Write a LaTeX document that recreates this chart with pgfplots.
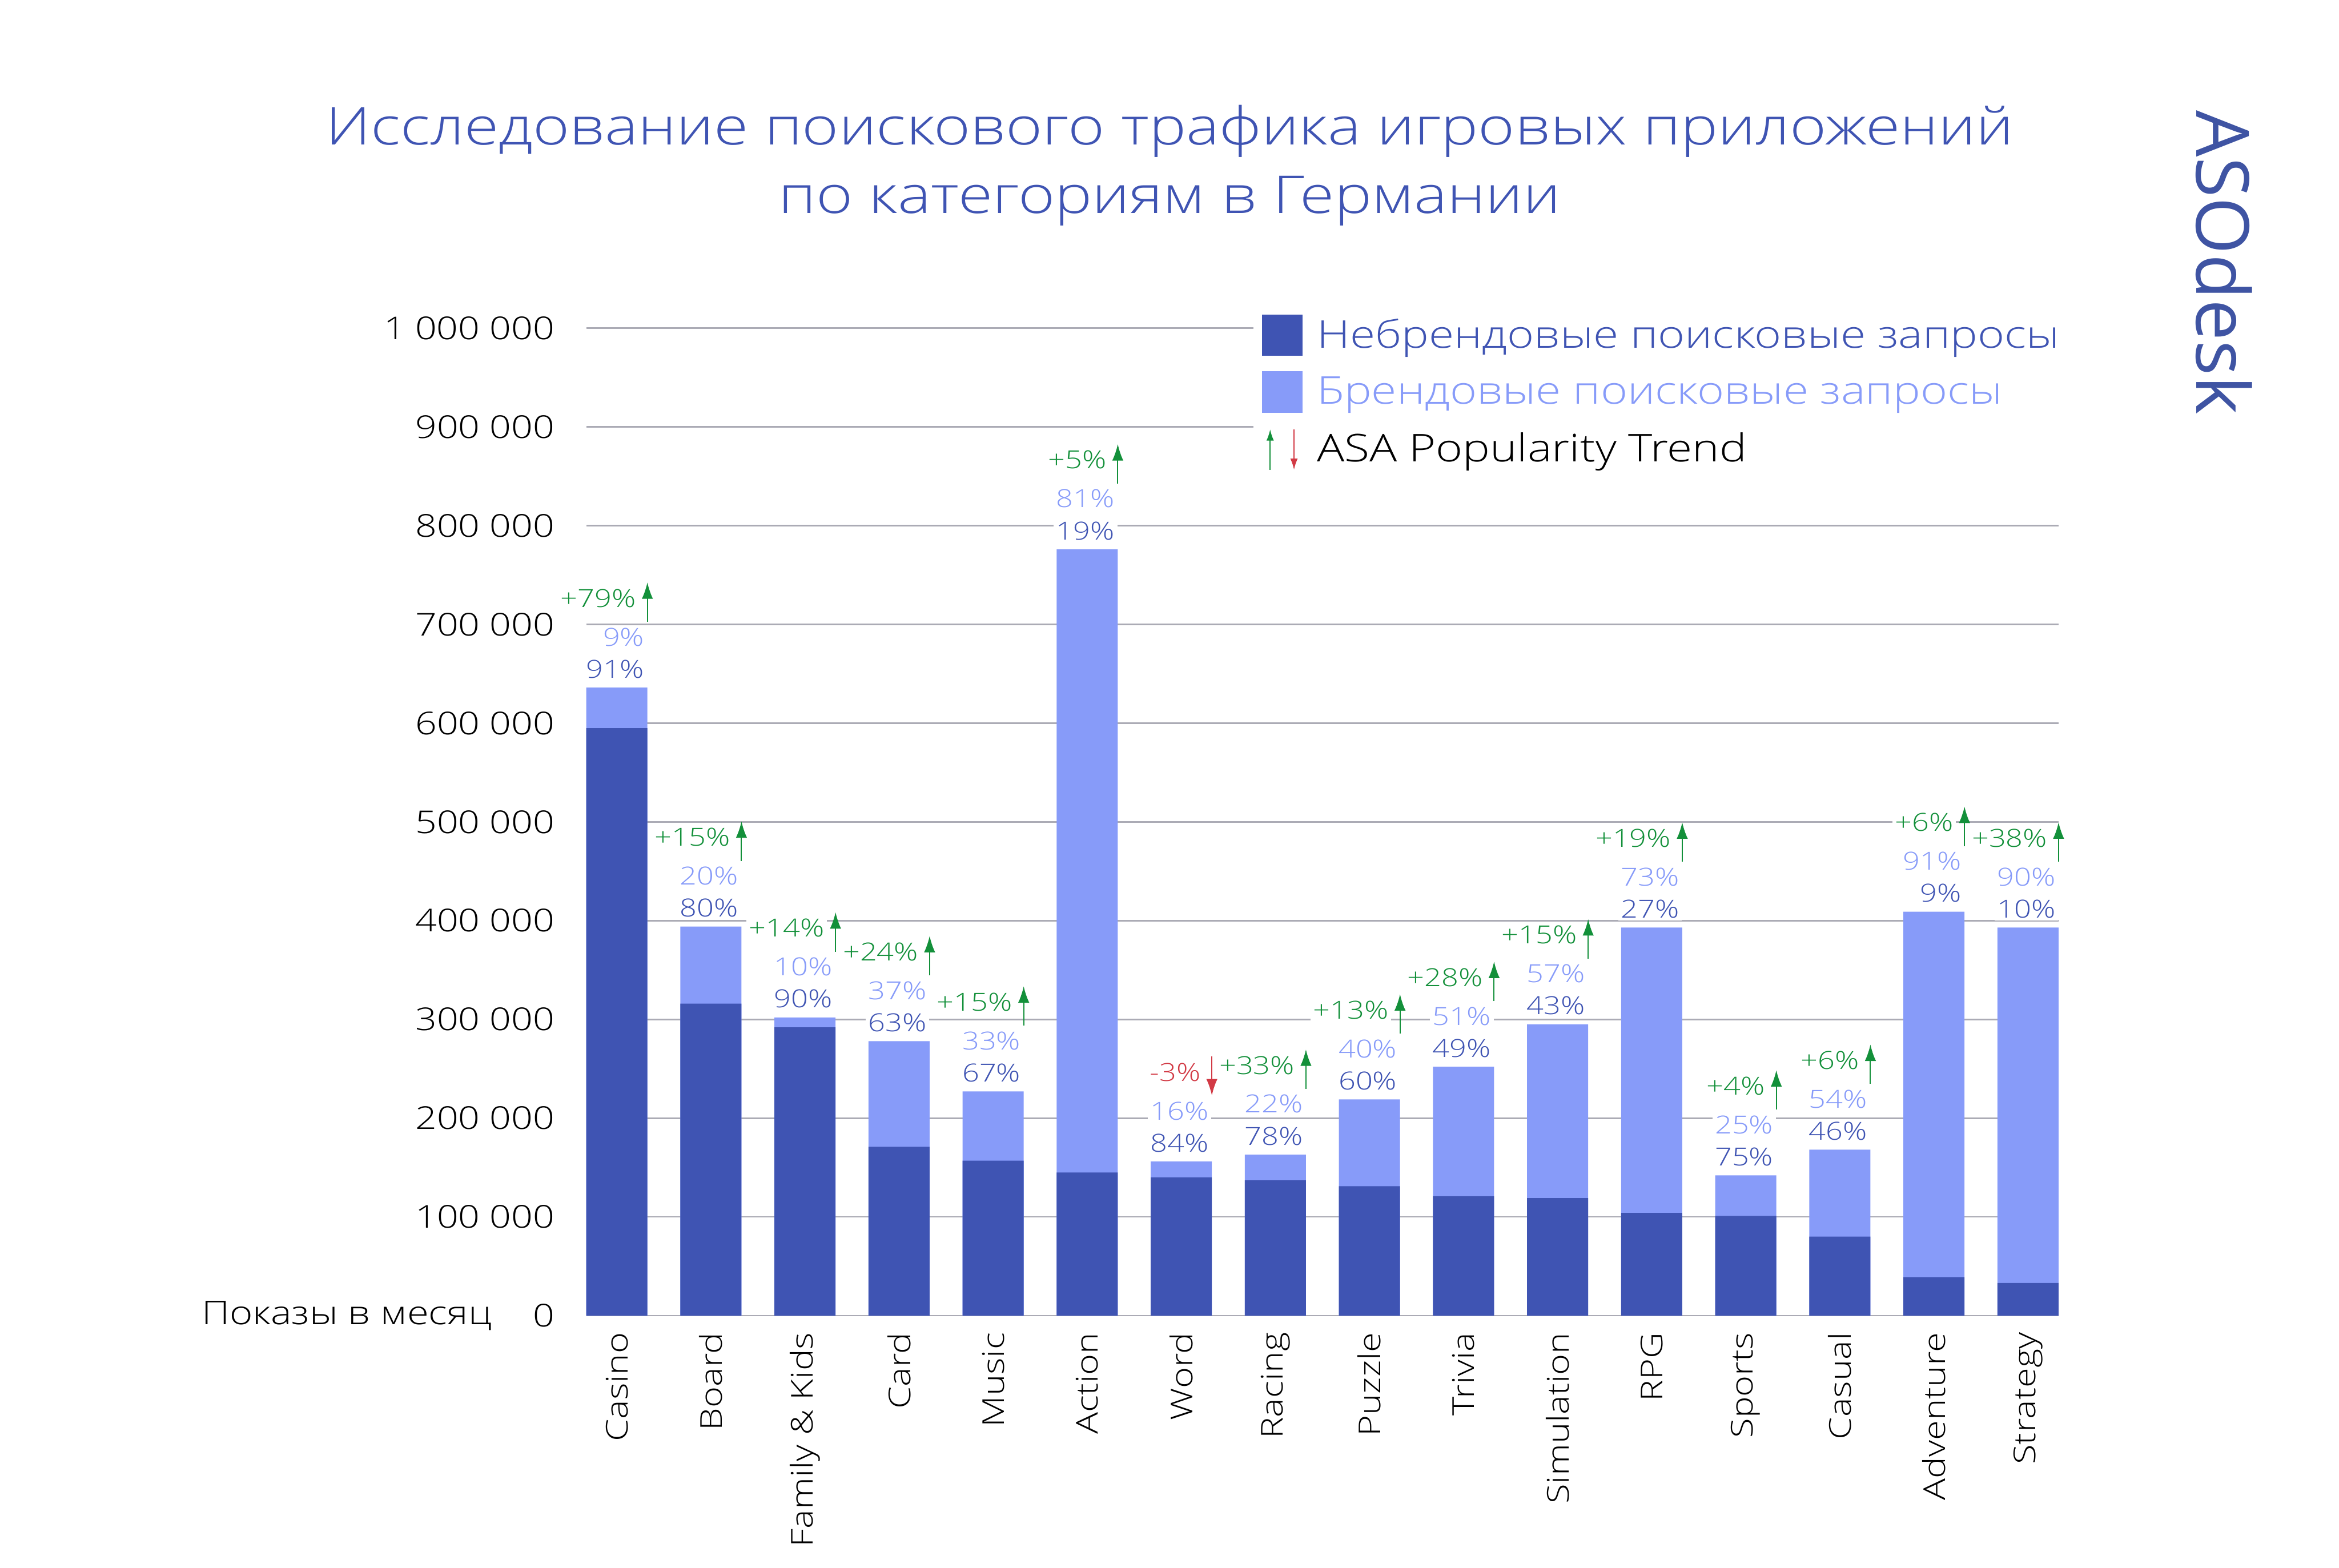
\documentclass[border=0pt]{standalone}
\usepackage{fontspec}
\setmainfont{Open Sans Light}[FakeStretch=1.2]
\newfontfamily\logofont{Open Sans}
\usepackage{pgfplots}
\pgfplotsset{compat=1.18}
\usepackage{pgfplotstable}
\usetikzlibrary{arrows.meta}

\definecolor{cdark}{HTML}{3F54B3}
\definecolor{clight}{HTML}{879BF9}
\definecolor{cgreen}{HTML}{13903A}
\definecolor{cred}{HTML}{D23A45}
\definecolor{cgrid}{HTML}{ABABB5}
\definecolor{clogo}{HTML}{3F54A3}

\newcommand\tickfont{\fontsize{12}{14}\selectfont}
\newcommand\catfont{\fontsize{11.5}{14}\selectfont}
\newcommand\pctfont{\fontsize{9.5}{11}\selectfont}
\newcommand\legfont{\fontsize{14.6}{18}\selectfont}
\newcommand\titlefont{\fontsize{19.9}{26.2}\selectfont}

\pgfkeys{/pgf/number format/assume math mode=true}

% x: category index, dark: non-brand impressions, total: all impressions
% pd / pb: non-brand / brand share, trend: ASA popularity trend
\pgfplotstableread{
x dark total pd pb trend
0 595000 636000 91 9 79
1 316000 394000 80 20 15
2 292000 302000 90 10 14
3 171000 278000 63 37 24
4 157000 227000 67 33 15
5 145000 776000 19 81 5
6 140000 156000 84 16 -3
7 137000 163000 78 22 33
8 131000 219000 60 40 13
9 121000 252000 49 51 28
10 119000 295000 43 57 15
11 104000 393000 27 73 19
12 101000 142000 75 25 4
13 80000 168000 46 54 6
14 39000 409000 9 91 6
15 33000 393000 10 90 38
}\datatable

\begin{document}
\begin{tikzpicture}
\begin{axis}[
  at={(0,0)}, anchor=south west,
  scale only axis, width=197.4mm, height=132.4mm,
  xmin=-0.325, xmax=15.325, ymin=0, ymax=1000000,
  clip=false,
  axis line style={draw=none},
  major tick length=0pt,
  scaled y ticks=false,
  ytick={0,100000,200000,300000,400000,500000,600000,700000,800000,900000,1000000},
  yticklabels={0,100 000,200 000,300 000,400 000,500 000,600 000,700 000,800 000,900 000,1 000 000},
  yticklabel style={anchor=east, inner sep=0pt, font=\tickfont},
  yticklabel shift=4.2mm,
  ymajorgrids,
  grid style={line width=0.6pt, color=cgrid},
  xtick={0,...,15},
  xticklabels={Casino,Board,Family \& Kids,Card,Music,Action,Word,Racing,Puzzle,Trivia,Simulation,RPG,Sports,Casual,Adventure,Strategy},
  xticklabel style={rotate=90, anchor=east, inner sep=0pt, font=\catfont},
  xticklabel shift=2.2mm,
  bar width=0.65,
  legend cell align=left,
  legend style={at={(rel axis cs:0.453,1.024)}, anchor=north west,
    draw=none, fill=white, inner sep=1.2mm, outer sep=0pt,
    font=\legfont, row sep=1.9mm,
    /tikz/every odd column/.append style={column sep=1.2mm}},
]
% bars: total (brand on top) then the non-brand part over it
\addplot[ybar, bar shift=0pt, fill=clight, draw=none, forget plot]
  table[x=x, y=total]{\datatable};
\addplot[ybar, bar shift=0pt, fill=cdark, draw=none, forget plot]
  table[x=x, y=dark]{\datatable};

% share labels
\addplot[draw=none, forget plot, point meta=explicit,
  nodes near coords={\pgfmathprintnumber{\pgfplotspointmeta}\%},
  every node near coord/.append style={anchor=base east, xshift=4.1mm, yshift=1.3mm,
    text=cdark, fill=white, inner sep=1pt, font=\pctfont}]
  table[x=x, y=total, meta=pd]{\datatable};
\addplot[draw=none, forget plot, point meta=explicit,
  nodes near coords={\pgfmathprintnumber{\pgfplotspointmeta}\%},
  every node near coord/.append style={anchor=base east, xshift=4.1mm, yshift=5.6mm,
    text=clight, fill=white, inner sep=1pt, font=\pctfont}]
  table[x=x, y=total, meta=pb]{\datatable};

% trend labels
\addplot[draw=none, forget plot, point meta=explicit,
  restrict expr to domain={\thisrow{trend}}{0:1000},
  nodes near coords={\pgfmathprintnumber[showpos]{\pgfplotspointmeta}\%},
  every node near coord/.append style={anchor=base east, xshift=3.0mm, yshift=10.8mm,
    text=cgreen, fill=white, inner sep=1pt, font=\pctfont}]
  table[x=x, y=total, meta=trend]{\datatable};
\addplot[draw=none, forget plot, point meta=explicit,
  restrict expr to domain={\thisrow{trend}}{-1000:-0.5},
  nodes near coords={\pgfmathprintnumber{\pgfplotspointmeta}\%},
  every node near coord/.append style={anchor=base east, xshift=3.0mm, yshift=10.8mm,
    text=cred, fill=white, inner sep=1pt, font=\pctfont}]
  table[x=x, y=total, meta=trend]{\datatable};

% trend arrows
\addplot[forget plot, cgreen, line width=0.45pt, -{Latex[length=2.2mm,width=1.5mm]},
  quiver={u=0, v=40000},
  restrict expr to domain={\thisrow{trend}}{0:1000}]
  table[x expr=\thisrow{x}+0.325, y expr=\thisrow{total}+66500]{\datatable};
\addplot[forget plot, cred, line width=0.45pt, -{Latex[length=2.2mm,width=1.5mm]},
  quiver={u=0, v=-39500},
  restrict expr to domain={\thisrow{trend}}{-1000:-0.5}]
  table[x expr=\thisrow{x}+0.325, y expr=\thisrow{total}+106500]{\datatable};

\addlegendimage{legend image code/.code={\fill[cdark] (0mm,-2.7mm) rectangle (5.3mm,2.7mm);}}
\addlegendentry{\textcolor{cdark}{Небрендовые поисковые запросы}}
\addlegendimage{legend image code/.code={\fill[clight] (0mm,-2.7mm) rectangle (5.3mm,2.7mm);}}
\addlegendentry{\textcolor{clight}{Брендовые поисковые запросы}}
\addlegendimage{legend image code/.code={
  \draw[cgreen, line width=0.4pt, -{Latex[length=1.5mm,width=1mm]}] (1mm,-2.8mm) -- (1mm,2.6mm);
  \draw[cred, line width=0.4pt, -{Latex[length=1.5mm,width=1mm]}] (4.2mm,2.6mm) -- (4.2mm,-2.8mm);}}
\addlegendentry{ASA Popularity Trend}
\end{axis}

\node[font=\titlefont, text=cdark, align=center] at (78.2mm,154.2mm)
  {Исследование поискового трафика игровых приложений\\по категориям в Германии};
\node[anchor=east, inner sep=0pt, font=\fontsize{12.5}{14}\selectfont] at (-12.6mm,0) {Показы в месяц};
\node[rotate=-90, text=clogo, font=\logofont\fontsize{28}{30}\selectfont] at (219.6mm,141.2mm) {ASOdesk};

\pgfresetboundingbox
\path (-78.6mm,-33.8mm) rectangle (235mm,176.4mm);
\end{tikzpicture}
\end{document}
